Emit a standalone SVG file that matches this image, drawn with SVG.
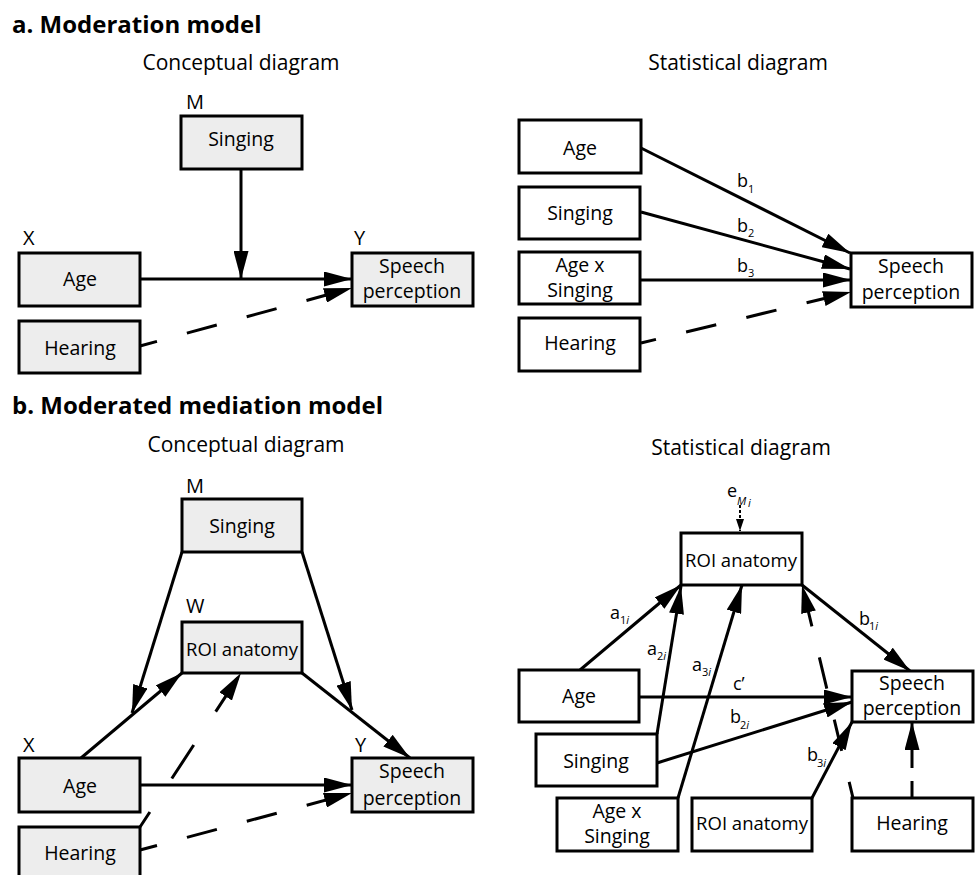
<svg xmlns="http://www.w3.org/2000/svg" width="976" height="875" viewBox="0 0 976 875">
<style>
text{font-family:"Open Sans","Noto Sans",sans-serif;fill:#000}
.t{font-size:24px;font-weight:bold}
.h{font-size:21px}
.n{font-size:19.5px;text-anchor:middle}
.r{font-size:18.5px}
.l{font-size:20px}
.p{font-size:18px}
.s{font-size:11px}
.si{font-size:11px;font-style:italic}
.bx{stroke:#000;stroke-width:3}
.g{fill:#ededed}
.w{fill:#fff}
.c{stroke:#000;stroke-width:3;fill:none;marker-end:url(#ah)}
.d{stroke-dasharray:31 31}
</style>
<defs>
<marker id="ah" viewBox="0 0 28 15" refX="28" refY="7.5" markerWidth="28" markerHeight="15" orient="auto" markerUnits="userSpaceOnUse"><path d="M0,0 L28,7.5 L0,15 z" fill="#000"/></marker>
<marker id="sa" viewBox="0 0 12 8" refX="12" refY="4" markerWidth="12" markerHeight="8" orient="auto" markerUnits="userSpaceOnUse"><path d="M0,0 L12,4 L0,8 z" fill="#000"/></marker>
</defs>

<g id="titles">
<text class="t" x="12" y="33">a. Moderation model</text>
<text class="h" x="241" y="70" text-anchor="middle">Conceptual diagram</text>
<text class="h" x="738" y="70" text-anchor="middle">Statistical diagram</text>
<text class="t" x="12" y="414">b. Moderated mediation model</text>
<text class="h" x="246" y="452" text-anchor="middle">Conceptual diagram</text>
<text class="h" x="741" y="455" text-anchor="middle">Statistical diagram</text>
</g>

<g id="connectors">
<line class="c" x1="241" y1="169" x2="241" y2="279"/>
<line class="c" x1="140" y1="279" x2="352" y2="279"/>
<line class="c d" x1="140" y1="346" x2="352" y2="288" stroke-dashoffset="13.4"/>
<line class="c" x1="641" y1="148" x2="850" y2="253"/>
<line class="c" x1="641" y1="212" x2="850" y2="269"/>
<line class="c" x1="641" y1="280" x2="851" y2="280"/>
<line class="c d" x1="641" y1="343" x2="851" y2="292" stroke-dashoffset="15.6"/>
<line class="c" x1="182" y1="552" x2="132" y2="713"/>
<line class="c" x1="302" y1="552" x2="352" y2="710"/>
<line class="c" x1="81" y1="758" x2="182" y2="673"/>
<line class="c" x1="302" y1="673" x2="410" y2="758"/>
<line class="c" x1="140" y1="785" x2="352" y2="785"/>
<line class="c d" x1="140" y1="850" x2="352" y2="793" stroke-dashoffset="13.4"/>
<line class="c" x1="140" y1="827" x2="241" y2="673" stroke-dasharray="40 40" stroke-dashoffset="22"/>
<line x1="740" y1="505" x2="740" y2="531" stroke="#000" stroke-width="2" stroke-dasharray="3 2" marker-end="url(#sa)"/>
<line class="c" x1="580" y1="670" x2="681" y2="585"/>
<line class="c" x1="657" y1="734" x2="681" y2="586"/>
<line class="c" x1="678" y1="798" x2="742" y2="585"/>
<line class="c" x1="802" y1="585" x2="910" y2="671"/>
<line class="c" x1="639" y1="697" x2="852" y2="697"/>
<line class="c" x1="657" y1="763" x2="852" y2="702"/>
<line class="c" x1="812" y1="798" x2="852" y2="722"/>
<line class="c" x1="912" y1="798" x2="912" y2="722" stroke-dasharray="17 13 80"/>
<line class="c" x1="853" y1="798" x2="802" y2="585" stroke-dasharray="32 32" stroke-dashoffset="15.5"/>
</g>

<g id="labels">
<text class="p" x="737" y="187">b</text><text class="s" x="748" y="193">1</text>
<text class="p" x="737" y="232">b</text><text class="s" x="748" y="237">2</text>
<text class="p" x="737" y="272">b</text><text class="s" x="748" y="277">3</text>
<text class="p" x="727" y="497">e</text><text class="si" x="737" y="505">M</text><text class="si" x="748" y="507" font-size="9">i</text>
<text class="p" x="610" y="619">a</text><text class="s" x="620" y="624">1<tspan font-style="italic">i</tspan></text>
<text class="p" x="647" y="655">a</text><text class="s" x="657" y="660">2<tspan font-style="italic">i</tspan></text>
<text class="p" x="692" y="671">a</text><text class="s" x="702" y="676">3<tspan font-style="italic">i</tspan></text>
<text class="p" x="859" y="625">b</text><text class="s" x="869" y="630">1<tspan font-style="italic">i</tspan></text>
<text class="p" x="733" y="690">c’</text>
<text class="p" x="730" y="723">b</text><text class="s" x="740" y="729">2<tspan font-style="italic">i</tspan></text>
<text class="p" x="807" y="761">b</text><text class="s" x="817" y="767">3<tspan font-style="italic">i</tspan></text>
</g>

<g id="a-c-singing"><text class="l" x="186" y="109">M</text><rect class="bx g" x="181" y="116" width="121" height="53"/><text class="n" x="241" y="146">Singing</text></g>
<g id="a-c-age"><text class="l" x="23" y="245">X</text><rect class="bx g" x="19" y="253" width="121" height="53"/><text class="n" x="80" y="286">Age</text></g>
<g id="a-c-speech"><text class="l" x="354" y="245">Y</text><rect class="bx g" x="352" y="253" width="121" height="53"/><text class="n" x="412" y="273">Speech</text><text class="n" x="412" y="298">perception</text></g>
<g id="a-c-hearing"><rect class="bx g" x="19" y="321" width="121" height="52"/><text class="n" x="80" y="355">Hearing</text></g>

<g id="a-s-age"><rect class="bx w" x="519" y="120" width="122" height="53"/><text class="n" x="580" y="155">Age</text></g>
<g id="a-s-singing"><rect class="bx w" x="519" y="187" width="121" height="52"/><text class="n" x="580" y="220">Singing</text></g>
<g id="a-s-agexsinging"><rect class="bx w" x="519" y="252" width="121" height="52"/><text class="n" x="580" y="272">Age x</text><text class="n" x="580" y="297">Singing</text></g>
<g id="a-s-hearing"><rect class="bx w" x="519" y="318" width="121" height="53"/><text class="n" x="580" y="350">Hearing</text></g>
<g id="a-s-speech"><rect class="bx w" x="851" y="253" width="121" height="54"/><text class="n" x="911" y="273">Speech</text><text class="n" x="911" y="299">perception</text></g>

<g id="b-c-singing"><text class="l" x="186" y="493">M</text><rect class="bx g" x="182" y="499" width="120" height="53"/><text class="n" x="242" y="533">Singing</text></g>
<g id="b-c-roi"><text class="l" x="186" y="613">W</text><rect class="bx g" x="182" y="622" width="120" height="51"/><text class="n r" x="242" y="656">ROI anatomy</text></g>
<g id="b-c-age"><text class="l" x="23" y="752">X</text><rect class="bx g" x="19" y="758" width="121" height="54"/><text class="n" x="80" y="793">Age</text></g>
<g id="b-c-speech"><text class="l" x="355" y="752">Y</text><rect class="bx g" x="352" y="758" width="121" height="54"/><text class="n" x="412" y="778">Speech</text><text class="n" x="412" y="805">perception</text></g>
<g id="b-c-hearing"><rect class="bx g" x="19" y="827" width="121" height="55"/><text class="n" x="80" y="860">Hearing</text></g>

<g id="b-s-roi"><rect class="bx w" x="681" y="533" width="121" height="52"/><text class="n r" x="741" y="567">ROI anatomy</text></g>
<g id="b-s-speech"><rect class="bx w" x="852" y="671" width="121" height="51"/><text class="n" x="912" y="690">Speech</text><text class="n" x="912" y="715">perception</text></g>
<g id="b-s-age"><rect class="bx w" x="519" y="670" width="120" height="52"/><text class="n" x="579" y="703">Age</text></g>
<g id="b-s-singing"><rect class="bx w" x="536" y="734" width="121" height="52"/><text class="n" x="596" y="768">Singing</text></g>
<g id="b-s-agexsinging"><rect class="bx w" x="557" y="798" width="121" height="53"/><text class="n" x="617" y="818">Age x</text><text class="n" x="617" y="843">Singing</text></g>
<g id="b-s-roi2"><rect class="bx w" x="692" y="798" width="120" height="53"/><text class="n r" x="752" y="830">ROI anatomy</text></g>
<g id="b-s-hearing"><rect class="bx w" x="852" y="798" width="121" height="53"/><text class="n" x="912" y="830">Hearing</text></g>
</svg>
